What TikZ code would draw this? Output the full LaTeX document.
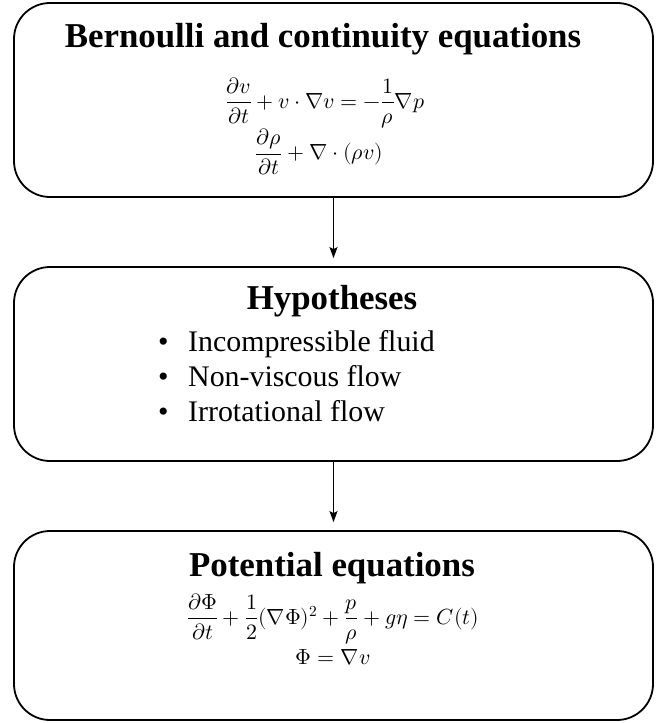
\documentclass[tikz,border=0pt]{standalone}
\usepackage{amsmath}
\usepackage{fontspec}
\usepackage{unicode-math}
\setmainfont{Liberation Serif}
\setmathfont{Latin Modern Math}
\usetikzlibrary{arrows.meta}

\tikzset{
  stagebox/.style={draw, line width=1.8bp, rounded corners=36bp, minimum width=639bp, inner sep=0pt},
  heading/.style={font=\fontsize{35}{40}\selectfont\bfseries},
  eqn/.style={font=\fontsize{22}{26}\selectfont, inner sep=0pt},
  itemtext/.style={font=\fontsize{30}{35.5}\selectfont, align=left, inner sep=0pt},
  flow/.style={->, line width=1.3bp, shorten >=8bp},
}

\begin{document}
\begin{tikzpicture}[x=1bp, y=-1bp, >={Stealth[length=11bp, width=8bp, inset=2bp]}]
  \useasboundingbox (0,0) rectangle (660,723);
  % the three stages
  \node[stagebox, minimum height=194bp] (bern) at (333.5,100) {};
  \node[stagebox, minimum height=194bp] (hyp) at (333.5,364) {};
  \node[stagebox, minimum height=189bp] (pot) at (333.5,625.5) {};
  % Bernoulli and continuity
  \node[heading] (berntitle) at (323,39) {Bernoulli and continuity equations};
  \node[eqn] (berneq) at (325,103)
    {$\dfrac{\partial v}{\partial t} + v\cdot\nabla v = -\dfrac{1}{\rho}\nabla p$};
  \node[eqn] (conteq) at (319,152)
    {$\dfrac{\partial \rho}{\partial t} + \nabla\cdot(\rho v)$};
  % hypotheses
  \node[heading] (hyptitle) at (332,301) {Hypotheses};
  \node[itemtext, anchor=west] (hyplist) at (158,376)
    {\makebox[30bp][l]{\textbullet}Incompressible fluid\\
     \makebox[30bp][l]{\textbullet}Non-viscous flow\\
     \makebox[30bp][l]{\textbullet}Irrotational flow};
  % potential
  \node[heading] (pottitle) at (332,568) {Potential equations};
  \node[eqn] (poteq) at (333,619)
    {$\dfrac{\partial \mitPhi}{\partial t} + \dfrac{1}{2}(\nabla\mupPhi)^2 + \dfrac{p}{\rho} + g\eta = C(t)$};
  \node[eqn] (phieq) at (333,657) {$\mupPhi = \nabla v$};
  % arrows
  \draw[flow] (bern) -- (hyp);
  \draw[flow] (hyp) -- (pot);
\end{tikzpicture}
\end{document}
